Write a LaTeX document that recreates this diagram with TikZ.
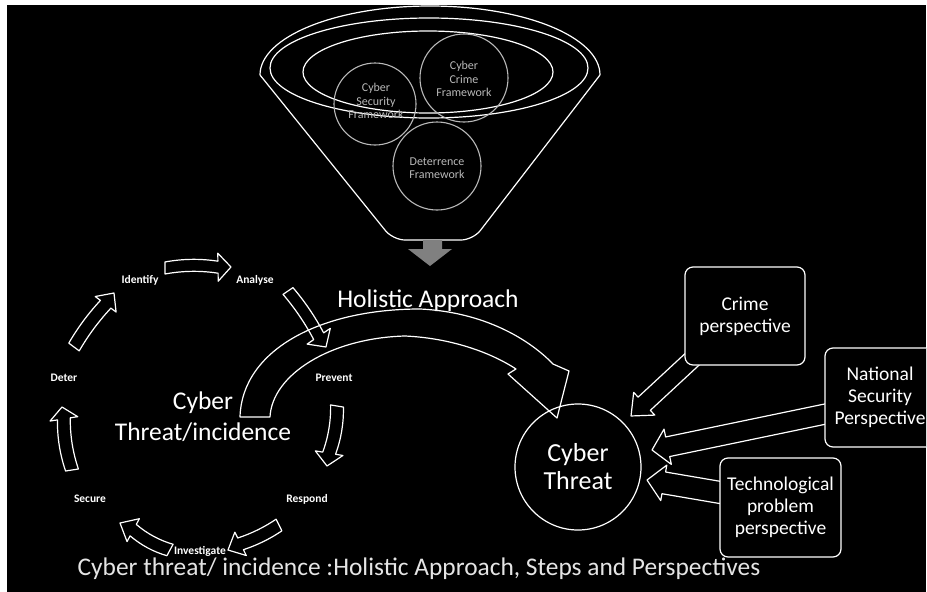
\documentclass[tikz,border=0pt]{standalone}
\usepackage{fontspec}
\setmainfont{Carlito}
\usetikzlibrary{calc}
\definecolor{soft}{RGB}{185,185,185}
\definecolor{funnelgray}{RGB}{128,128,128}
\definecolor{captiongray}{RGB}{228,228,228}

% Block arrow from #1 to #2: half shaft #3, half head #4, head length #5, bulge #6 (all pt)
\newcommand\blockarrow[6]{%
  \draw[outline] let \p1=(#1), \p2=(#2),
    \n1={atan2(\y2-\y1,\x2-\x1)},
    \n2={veclen(\x2-\x1,\y2-\y1)} in
    [shift={(\p1)}, rotate=\n1]
    (0pt,#3pt) .. controls ({(\n2-#5)/3*1pt},{(#3+#6)*1pt}) and ({(\n2-#5)*2/3*1pt},{(#3+#6)*1pt}) .. ({(\n2-#5)*1pt},#3pt)
    -- ({(\n2-#5)*1pt},#4pt) -- ({\n2*1pt},0pt) -- ({(\n2-#5)*1pt},-#4pt) -- ({(\n2-#5)*1pt},-#3pt)
    .. controls ({(\n2-#5)*2/3*1pt},{(-#3+#6)*1pt}) and ({(\n2-#5)/3*1pt},{(-#3+#6)*1pt}) .. (0pt,-#3pt) -- cycle;
}

\begin{document}
\begin{tikzpicture}[x=1pt,y=-1pt,
  outline/.style={draw=white, line width=1.2pt, line join=round},
  framecircle/.style={draw=soft, line width=1.1pt, circle, inner sep=0pt, minimum size=#1},
  frametext/.style={text=soft, align=center, font=\fontsize{12}{13.5}\selectfont},
  steplabel/.style={text=white, font=\bfseries\fontsize{11.5}{13}\selectfont},
  bigtext/.style={text=white, align=center, font=\fontsize{25.5}{31}\selectfont},
  perspbox/.style={draw=white, line width=1.2pt, rounded corners=8, fill=black, text=white,
    align=center, font=\fontsize{19.5}{22}\selectfont, inner sep=0pt},
]
\useasboundingbox (0,0) rectangle (927,592);
\fill[white] (0,0) rectangle (927,592);
\fill[black] (7,5) rectangle (926,592);

\begin{scope}
\clip (7,5) rectangle (926,592);

% ---------- funnel ----------
\draw[outline] (260,75) arc[start angle=180, end angle=360, x radius=170, y radius=69];
\draw[outline, rounded corners=12] (260,75) -- (393,240) -- (473,240) -- (600,75);
\draw[outline] (429,68) ellipse[x radius=159, y radius=50];
\draw[outline] (428,72) ellipse[x radius=125, y radius=41];

\node[framecircle=82] (secC) at (375,104) {};
\node[framecircle=88] (crimeC) at (464,78) {};
\node[framecircle=88] (detC) at (437,166) {};
\node[frametext] (secT) at (376,101) {Cyber\\Security\\Framework};
\node[frametext] (crimeT) at (464,79) {Cyber\\Crime\\Framework};
\node[frametext] (detT) at (437,168) {Deterrence\\Framework};

% output arrow of the funnel
\fill[funnelgray] (423,240) -- (442,240) -- (442,249) -- (452,249) -- (430,266) -- (408,249) -- (423,249) -- cycle;

\node[bigtext, anchor=base] (holistic) at (428,307) {Holistic Approach};

% ---------- cycle of steps ----------
\node[steplabel] (identify) at (140,280) {Identify};
\node[steplabel] (analyse) at (255,280) {Analyse};
\node[steplabel] (prevent) at (334,378) {Prevent};
\node[steplabel] (respond) at (307,499) {Respond};
\node[steplabel] (investigate) at (200,551) {Investigate};
\node[steplabel] (secure) at (90,499) {Secure};
\node[steplabel] (deter) at (64,378) {Deter};

\coordinate (c1a) at (165,268); \coordinate (c1b) at (231,267);
\coordinate (c2a) at (288,291); \coordinate (c2b) at (326,347);
\coordinate (c3a) at (337,406); \coordinate (c3b) at (327,466);
\coordinate (c4a) at (279,525); \coordinate (c4b) at (228,550);
\coordinate (c5a) at (170,550); \coordinate (c5b) at (120,523);
\coordinate (c6a) at (72,470);  \coordinate (c6b) at (62,407);
\coordinate (c7a) at (74,347);  \coordinate (c7b) at (114,293);

\blockarrow{c1a}{c1b}{6}{14}{13}{3}
\blockarrow{c2a}{c2b}{6}{14}{13}{2}
\blockarrow{c3a}{c3b}{6.5}{14}{13}{3}
\blockarrow{c4a}{c4b}{6.5}{13}{14}{2}
\blockarrow{c5a}{c5b}{6.5}{13}{15}{3}
\blockarrow{c6a}{c6b}{6.5}{14}{12}{3}
\blockarrow{c7a}{c7b}{6.5}{13}{14}{2}

\node[bigtext] (incident) at (203,417) {Cyber\\Threat/incidence};

% ---------- holistic approach arrow ----------
\draw[outline] (240,417) .. controls (242,350) and (320,309) .. (420,309)
  .. controls (485,312) and (530,340) .. (553,364) -- (569,371) -- (557,418) -- (508,374) -- (516,369)
  .. controls (490,352) and (450,338) .. (405,336)
  .. controls (330,338) and (272,375) .. (270,417) -- cycle;

% ---------- perspectives ----------
\node[outline, circle, minimum size=126, inner sep=0pt, text=white, align=center,
  font=\fontsize{26}{28}\selectfont] (threat) at (578,467) {Cyber\\Threat};

\coordinate (p1a) at (700,352); \coordinate (p1b) at (631,416);
\coordinate (p2a) at (840,411); \coordinate (p2b) at (652,450);
\coordinate (p3a) at (735,495); \coordinate (p3b) at (647,480);
\blockarrow{p1a}{p1b}{9}{15.5}{18}{0}
\blockarrow{p2a}{p2b}{10}{18}{16}{0}
\blockarrow{p3a}{p3b}{11}{18}{17}{0}

\node[perspbox, minimum width=120, minimum height=98] (crime) at (745,316) {Crime\\perspective};
\node[perspbox, minimum width=110, minimum height=99] (national) at (880,397.5) {National\\Security\\Perspective};
\node[perspbox, minimum width=121, minimum height=99] (tech) at (780.5,507.5) {Technological\\problem\\perspective};

\node[text=captiongray, anchor=base, font=\fontsize{25.4}{30}\selectfont] (caption) at (419,575)
  {Cyber threat/ incidence :Holistic Approach, Steps and Perspectives};
\end{scope}
\end{tikzpicture}
\end{document}
